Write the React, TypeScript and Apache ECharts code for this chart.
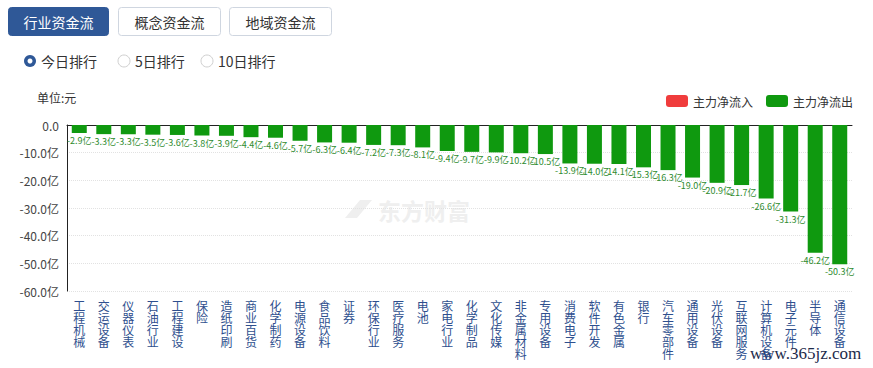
import React, { useEffect, useRef } from "react";
import * as echarts from "echarts";

const categories = [
  "工程机械", "交运设备", "仪器仪表", "石油行业", "工程建设", "保险", "造纸印刷", "商业百货",
  "化学制药", "电源设备", "食品饮料", "证券", "环保行业", "医疗服务", "电池", "家电行业",
  "化学制品", "文化传媒", "非金属材料", "专用设备", "消费电子", "软件开发", "有色金属", "银行",
  "汽车零部件", "通用设备", "光伏设备", "互联网服务", "计算机设备", "电子元件", "半导体", "通信设备",
];
const outflow = [
  -2.9, -3.3, -3.3, -3.5, -3.6, -3.8, -3.9, -4.4,
  -4.6, -5.7, -6.3, -6.4, -7.2, -7.3, -8.1, -9.4,
  -9.7, -9.9, -10.2, -10.5, -13.9, -14.0, -14.1, -15.3,
  -16.3, -19.0, -20.9, -21.7, -26.6, -31.3, -46.2, -50.3,
];
const inflow: number[] = [];
const tabs = ["行业资金流", "概念资金流", "地域资金流"];
const radios = ["今日排行", "5日排行", "10日排行"];

const FONT = "'Noto Sans CJK SC', 'Microsoft YaHei', sans-serif";

export default function App() {
  const ref = useRef<HTMLDivElement>(null);
  useEffect(() => {
    if (!ref.current) return;
    const chart = echarts.init(ref.current, null, { renderer: "svg" });
    const tabX = [8, 118, 229];
    const tabW = [100, 102, 102];
    const radioX = [30, 124, 207];
    const graphic: any[] = [];
    tabs.forEach((t, i) => {
      const sel = i === 0;
      graphic.push({
        type: "rect",
        shape: { x: tabX[i] + 0.5, y: 7.5, width: tabW[i], height: 28, r: 3 },
        style: { fill: sel ? "#2f5897" : "#fff", stroke: sel ? "#2f5897" : "#cfd6e0", lineWidth: 1 },
      });
      graphic.push({
        type: "text",
        x: tabX[i] + tabW[i] / 2 + 0.5,
        y: 21.5,
        style: {
          text: t, fill: sel ? "#fff" : "#333", fontSize: 14, fontFamily: FONT,
          align: "center", verticalAlign: "middle",
        },
      });
    });
    radios.forEach((t, i) => {
      const sel = i === 0;
      if (sel) {
        graphic.push({ type: "circle", shape: { cx: radioX[i], cy: 61, r: 6 }, style: { fill: "#2f5897" } });
        graphic.push({ type: "circle", shape: { cx: radioX[i], cy: 61, r: 2.5 }, style: { fill: "#fff" } });
      } else {
        graphic.push({
          type: "circle", shape: { cx: radioX[i], cy: 61, r: 6 },
          style: { fill: "#fff", stroke: "#d0d0d0", lineWidth: 1 },
        });
      }
      graphic.push({
        type: "text", x: radioX[i] + 11, y: 61,
        style: { text: t, fill: "#333", fontSize: 14, fontFamily: FONT, verticalAlign: "middle" },
      });
    });
    graphic.push({
      type: "text", x: 37, y: 97,
      style: { text: "单位:元", fill: "#333", fontSize: 12, fontFamily: FONT, verticalAlign: "middle" },
    });
    graphic.push({
      type: "text", x: 378, y: 210, z: -1,
      style: {
        text: "东方财富", fill: "#efefef", fontSize: 23, fontWeight: "bold", fontFamily: FONT,
        verticalAlign: "middle",
      },
    });
    graphic.push({
      type: "polygon", z: -1,
      shape: { points: [[345, 218], [360, 200], [372, 200], [357, 218]] },
      style: { fill: "#efefef" },
    });
    graphic.push({
      type: "text", x: 750, y: 353,
      style: {
        text: "www.365jz.com", fill: "#1c2a4a", fontSize: 17, fontFamily: "'Liberation Serif', serif",
        verticalAlign: "middle",
      },
    });

    chart.setOption({
      animation: false,
      textStyle: { fontFamily: FONT },
      graphic,
      legend: {
        right: 15, top: 90, itemWidth: 22, itemHeight: 12, itemGap: 13,
        textStyle: { fontSize: 12, color: "#333", fontFamily: FONT },
        data: [
          { name: "主力净流入", itemStyle: { color: "#f03c3c", borderRadius: 3 } },
          { name: "主力净流出", itemStyle: { color: "#0f990f", borderRadius: 3 } },
        ],
      },
      grid: { left: 67, right: 21, top: 125, bottom: 77, containLabel: false },
      xAxis: [
        {
          type: "category", data: categories, position: "bottom",
          axisLine: { show: false, onZero: false }, axisTick: { show: false },
          axisLabel: {
            interval: 0, margin: 8, color: "#2e4f8e", fontSize: 12, lineHeight: 12,
            verticalAlign: "top",
            formatter: (v: string) => v.split("").join("\n"),
          },
        },
        {
          type: "category", data: categories, position: "top",
          axisLine: { show: true, lineStyle: { color: "#222", width: 1 } },
          axisTick: { show: false }, axisLabel: { show: false },
        },
      ],
      yAxis: {
        type: "value", min: -60, max: 0, interval: 10,
        axisLine: { show: true, lineStyle: { color: "#222", width: 1 } },
        axisTick: { show: false },
        splitLine: { lineStyle: { color: "#e2e2e2", type: "dotted" } },
        axisLabel: {
          color: "#444", fontSize: 12, margin: 8,
          formatter: (v: number) => (v === 0 ? "0.0" : v.toFixed(1) + "亿"),
        },
      },
      series: [
        {
          name: "主力净流入", type: "bar", data: inflow, itemStyle: { color: "#f03c3c" },
        },
        {
          name: "主力净流出", type: "bar", data: outflow, barWidth: 15, barGap: "-100%",
          itemStyle: { color: "#0f990f" },
          label: {
            show: true, position: "bottom", distance: 3, fontSize: 9, color: "#2e8b2e",
            formatter: (p: any) => Number(p.value).toFixed(1) + "亿",
          },
        },
      ],
    });
    return () => chart.dispose();
  }, []);
  return (
    <div
      ref={ref}
      style={{ position: "fixed", left: 0, top: 0, width: 873, height: 368, background: "#fff" }}
    />
  );
}
